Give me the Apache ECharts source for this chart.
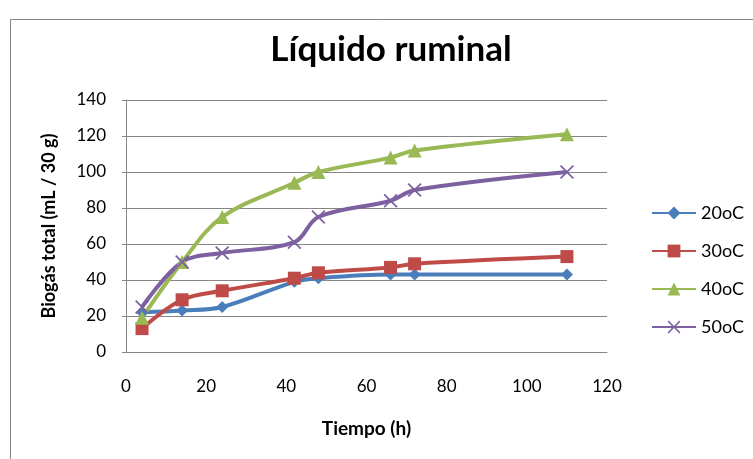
<!DOCTYPE html>
<html>
<head>
<meta charset="utf-8">
<title>Líquido ruminal</title>
<script src="https://cdn.jsdelivr.net/npm/echarts@6/dist/echarts.min.js"></script>
<style>
  html, body { margin: 0; padding: 0; background: #ffffff; }
  #chart { width: 753px; height: 459px; }
</style>
</head>
<body>
<div id="chart"></div>
<script>
// Sampling times (h)
const tiempo = [4, 14, 24, 42, 48, 66, 72, 110];

// Cumulative biogas (mL / 30 g) at each temperature
const serie20 = [22, 23, 25, 39, 41, 43, 43, 43];
const serie30 = [13, 29, 34, 41, 44, 47, 49, 53];
const serie40 = [19, 50, 75, 94, 100, 108, 112, 121];
const serie50 = [25, 50, 55, 61, 75, 84, 90, 100];

const seriesNames = ['20oC', '30oC', '40oC', '50oC'];

// Axis ranges
const xTicks = { min: 0, max: 120, step: 20 };
const yTicks = { min: 0, max: 140, step: 20 };

const FONT = 'Lato, "Open Sans", "Liberation Sans", sans-serif';
const GRID_GRAY = '#868686';

// Thin "x" marker drawn as a filled outline
const crossSymbol = 'path://M0,1.2L1.2,0L7,5.8L12.8,0L14,1.2L8.2,7L14,12.8L12.8,14L7,8.2L1.2,14L0,12.8L5.8,7Z';

function pairs(values) {
  return tiempo.map((t, i) => [t, values[i]]);
}

function lineSeries(name, values, color, symbol, size) {
  return {
    name: name,
    type: 'line',
    data: pairs(values),
    smooth: 0.35,
    symbol: symbol,
    symbolSize: size,
    showSymbol: true,
    lineStyle: { color: color, width: 4 },
    itemStyle: { color: color },
    emphasis: { disabled: true }
  };
}

const chart = echarts.init(document.getElementById('chart'), null, { renderer: 'canvas' });

chart.setOption({
  animation: false,
  backgroundColor: '#ffffff',
  graphic: [{
    type: 'rect',
    left: 8, top: 17,
    shape: { width: 800, height: 500 },
    style: { fill: 'none', stroke: GRID_GRAY, lineWidth: 1 },
    silent: true,
    z: -1
  }],
  title: {
    text: 'Líquido ruminal',
    left: 386,
    top: 27,
    textAlign: 'center',
    textStyle: { fontFamily: FONT, fontWeight: 'bold', fontSize: 35, color: '#000000' }
  },
  grid: { left: 126, right: 146, top: 100, bottom: 107, containLabel: false },
  legend: {
    orient: 'vertical',
    left: 651,
    top: 204,
    padding: 0,
    itemWidth: 44,
    itemHeight: 16,
    itemGap: 20,
    data: seriesNames,
    textStyle: { fontFamily: FONT, fontSize: 18, color: '#000000' }
  },
  xAxis: {
    type: 'value',
    min: xTicks.min,
    max: xTicks.max,
    interval: xTicks.step,
    name: 'Tiempo (h)',
    nameLocation: 'middle',
    nameGap: 67,
    nameTextStyle: { fontFamily: FONT, fontWeight: 'bold', fontSize: 19, color: '#000000' },
    axisLine: { show: true, lineStyle: { color: GRID_GRAY, width: 1 } },
    axisTick: { show: false },
    splitLine: { show: false },
    axisLabel: { margin: 26, fontFamily: FONT, fontSize: 17, color: '#000000' }
  },
  yAxis: {
    type: 'value',
    min: yTicks.min,
    max: yTicks.max,
    interval: yTicks.step,
    name: 'Biogás total (mL / 30 g)',
    nameLocation: 'middle',
    nameRotate: 90,
    nameGap: 68,
    nameTextStyle: { fontFamily: FONT, fontWeight: 'bold', fontSize: 18, color: '#000000' },
    axisLine: { show: true, lineStyle: { color: GRID_GRAY, width: 1 } },
    axisTick: { show: true, inside: false, length: 4, lineStyle: { color: GRID_GRAY } },
    splitLine: { show: true, lineStyle: { color: GRID_GRAY, width: 1 } },
    axisLabel: { margin: 20, fontFamily: FONT, fontSize: 17, color: '#000000' }
  },
  series: [
    lineSeries(seriesNames[0], serie20, '#4A7EBB', 'diamond', 12),
    lineSeries(seriesNames[1], serie30, '#BE4B48', 'rect', 13),
    lineSeries(seriesNames[2], serie40, '#98B954', 'triangle', 14),
    lineSeries(seriesNames[3], serie50, '#7D60A0', crossSymbol, 14)
  ]
});
</script>
</body>
</html>
